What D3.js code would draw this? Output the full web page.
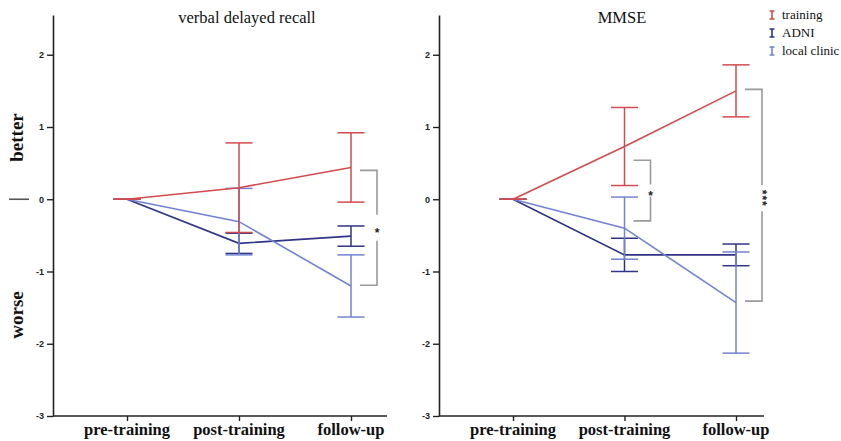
<!DOCTYPE html>
<html><head><meta charset="utf-8">
<script src="https://cdn.jsdelivr.net/npm/d3@7"></script>
<style>body{margin:0;background:#fff}</style>
</head><body><svg id="c" width="841" height="441"></svg>
<script>
const categories = ["pre-training", "post-training", "follow-up"];
const seriesNames = ["training", "ADNI", "local clinic"];
const yTicks = [-3, -2, -1, 0, 1, 2];
const panelTitles = ["verbal delayed recall", "MMSE"];

// verbal delayed recall (mean change, error half-width)
const verbalTraining = [0, 0.16, 0.44];
const verbalTrainingErr = [0, 0.62, 0.48];
const verbalADNI = [0, -0.61, -0.51];
const verbalADNIErr = [0, 0.14, 0.14];
const verbalClinic = [0, -0.31, -1.20];
const verbalClinicErr = [0, 0.46, 0.43];

// MMSE
const mmseTraining = [0, 0.73, 1.50];
const mmseTrainingErr = [0, 0.54, 0.36];
const mmseADNI = [0, -0.77, -0.77];
const mmseADNIErr = [0, 0.23, 0.15];
const mmseClinic = [0, -0.40, -1.43];
const mmseClinicErr = [0, 0.43, 0.70];

// significance brackets: panel, category, high value, low value, label
const bracketPanel = [0, 1, 1];
const bracketCat = [2, 1, 2];
const bracketHigh = [0.40, 0.54, 1.52];
const bracketLow = [-1.19, -0.30, -1.41];
const bracketLabel = ["*", "*", "***"];

const colors = {"training": "#d24b4e", "ADNI": "#2f3487", "local clinic": "#7283d2"};
const drawOrder = ["ADNI", "local clinic", "training"];

const panelsData = [
  {training: [verbalTraining, verbalTrainingErr], "ADNI": [verbalADNI, verbalADNIErr], "local clinic": [verbalClinic, verbalClinicErr]},
  {training: [mmseTraining, mmseTrainingErr], "ADNI": [mmseADNI, mmseADNIErr], "local clinic": [mmseClinic, mmseClinicErr]}
];
const panelLayout = [
  {axisX0: 53, axisX1: 387, catX0: 127, catX1: 351, titleX: 247},
  {axisX0: 439, axisX1: 764, catX0: 513, catX1: 736, titleX: 622}
];

const svg = d3.select("#c");
const y = d3.scaleLinear().domain([-3, 2.55]).range([416, 15]);
const capHalf = 13.5;

panelLayout.forEach((L, pi) => {
  const g = svg.append("g");
  const x = d3.scalePoint().domain(categories).range([L.catX0, L.catX1]);

  // y axis
  const ya = g.append("g").attr("transform", `translate(${L.axisX0},0)`)
    .call(d3.axisLeft(y).tickValues(yTicks).tickSize(6).tickSizeOuter(0).tickPadding(3).tickFormat(d => String(d)));
  ya.select(".domain").attr("stroke", "#222").attr("stroke-width", 1.6);
  ya.selectAll(".tick line").attr("stroke", "#222").attr("stroke-width", 1.4);
  ya.selectAll(".tick text").attr("font-family", "Liberation Sans, Arial, sans-serif")
    .attr("font-weight", "bold").attr("font-size", 9).attr("fill", "#222");

  // x axis
  const xa = g.append("g").attr("transform", `translate(0,${y(-3)})`)
    .call(d3.axisBottom(x).tickSize(5).tickFormat(""));
  xa.select(".domain").remove();
  xa.selectAll(".tick line").attr("stroke", "#222").attr("stroke-width", 1.4);
  g.append("line").attr("x1", L.axisX0).attr("x2", L.axisX1)
    .attr("y1", y(-3)).attr("y2", y(-3)).attr("stroke", "#222").attr("stroke-width", 1.6);
  g.selectAll(".xlab").data(categories).join("text")
    .attr("x", d => x(d)).attr("y", 435).attr("text-anchor", "middle")
    .attr("font-family", "Liberation Serif, Times New Roman, serif")
    .attr("font-weight", "bold").attr("font-size", 16.5).attr("fill", "#111").text(d => d);

  // title
  g.append("text").attr("x", L.titleX).attr("y", 23).attr("text-anchor", "middle")
    .attr("font-family", "Liberation Serif, Times New Roman, serif")
    .attr("font-size", 16.5).attr("fill", "#111").text(panelTitles[pi]);

  // brackets
  bracketPanel.forEach((bp, bi) => {
    if (bp !== pi) return;
    const cx = x(categories[bracketCat[bi]]);
    const x1 = cx + 9, x2 = cx + 26;
    const yt = y(bracketHigh[bi]), yb = y(bracketLow[bi]);
    const multi = bracketLabel[bi].length > 1;
    const ym = (yt + yb) / 2 + (multi ? 3 : 0);
    const gap = multi ? 13 : (pi === 0 ? 13 : 6);
    const bc = "#9a9a9a";
    g.append("path").attr("d", `M${x1},${yt}H${x2}V${ym - gap}`).attr("fill", "none").attr("stroke", bc).attr("stroke-width", 1.6);
    g.append("path").attr("d", `M${x2},${ym + gap}V${yb}H${x1}`).attr("fill", "none").attr("stroke", bc).attr("stroke-width", 1.6);
    g.append("text").attr("transform", `translate(${x2},${ym}) rotate(${multi ? 90 : 0})`)
      .attr("text-anchor", "middle").attr("dy", multi ? "0.35em" : "0.75em")
      .attr("letter-spacing", multi ? 1 : 0)
      .attr("font-family", "Liberation Sans, Arial, sans-serif").attr("font-weight", "bold")
      .attr("font-size", 12).attr("fill", "#222").text(bracketLabel[bi]);
  });

  // series
  drawOrder.forEach(name => {
    const [vals, errs] = panelsData[pi][name];
    const pts = categories.map((c, i) => ({x: x(c), v: vals[i], e: errs[i]}));
    const col = colors[name];
    g.append("path").datum(pts)
      .attr("d", d3.line().x(d => d.x).y(d => y(d.v)))
      .attr("fill", "none").attr("stroke", col).attr("stroke-width", 1.6);
    pts.forEach(p => {
      g.append("line").attr("x1", p.x).attr("x2", p.x).attr("y1", y(p.v + p.e)).attr("y2", y(p.v - p.e))
        .attr("stroke", col).attr("stroke-width", 1.5);
      [p.v + p.e, p.v - p.e].forEach(cv => {
        g.append("line").attr("x1", p.x - capHalf).attr("x2", p.x + capHalf)
          .attr("y1", y(cv)).attr("y2", y(cv)).attr("stroke", col).attr("stroke-width", 1.5);
      });
    });
  });
});

// side labels
svg.append("text").attr("transform", `translate(23,${137.5}) rotate(-90)`).attr("text-anchor", "middle")
  .attr("font-family", "Liberation Serif, Times New Roman, serif").attr("font-weight", "bold")
  .attr("font-size", 19).attr("fill", "#111").text("better");
svg.append("text").attr("transform", `translate(23,${315}) rotate(-90)`).attr("text-anchor", "middle")
  .attr("font-family", "Liberation Serif, Times New Roman, serif").attr("font-weight", "bold")
  .attr("font-size", 19).attr("fill", "#111").text("worse");
svg.append("line").attr("x1", 9).attr("x2", 29).attr("y1", y(0)).attr("y2", y(0))
  .attr("stroke", "#555").attr("stroke-width", 1.6);

// legend
const leg = svg.append("g");
seriesNames.forEach((name, i) => {
  const by = 19 + i * 18;
  const col = colors[name];
  leg.append("path").attr("d", `M769.5,${by - 8}H774.5M772,${by - 8}V${by}M769.5,${by}H774.5`)
    .attr("fill", "none").attr("stroke", col).attr("stroke-width", 1.6);
  leg.append("text").attr("x", 782).attr("y", by)
    .attr("font-family", "Liberation Serif, Times New Roman, serif")
    .attr("font-size", 13).attr("fill", "#111").text(name);
});
</script></body></html>
